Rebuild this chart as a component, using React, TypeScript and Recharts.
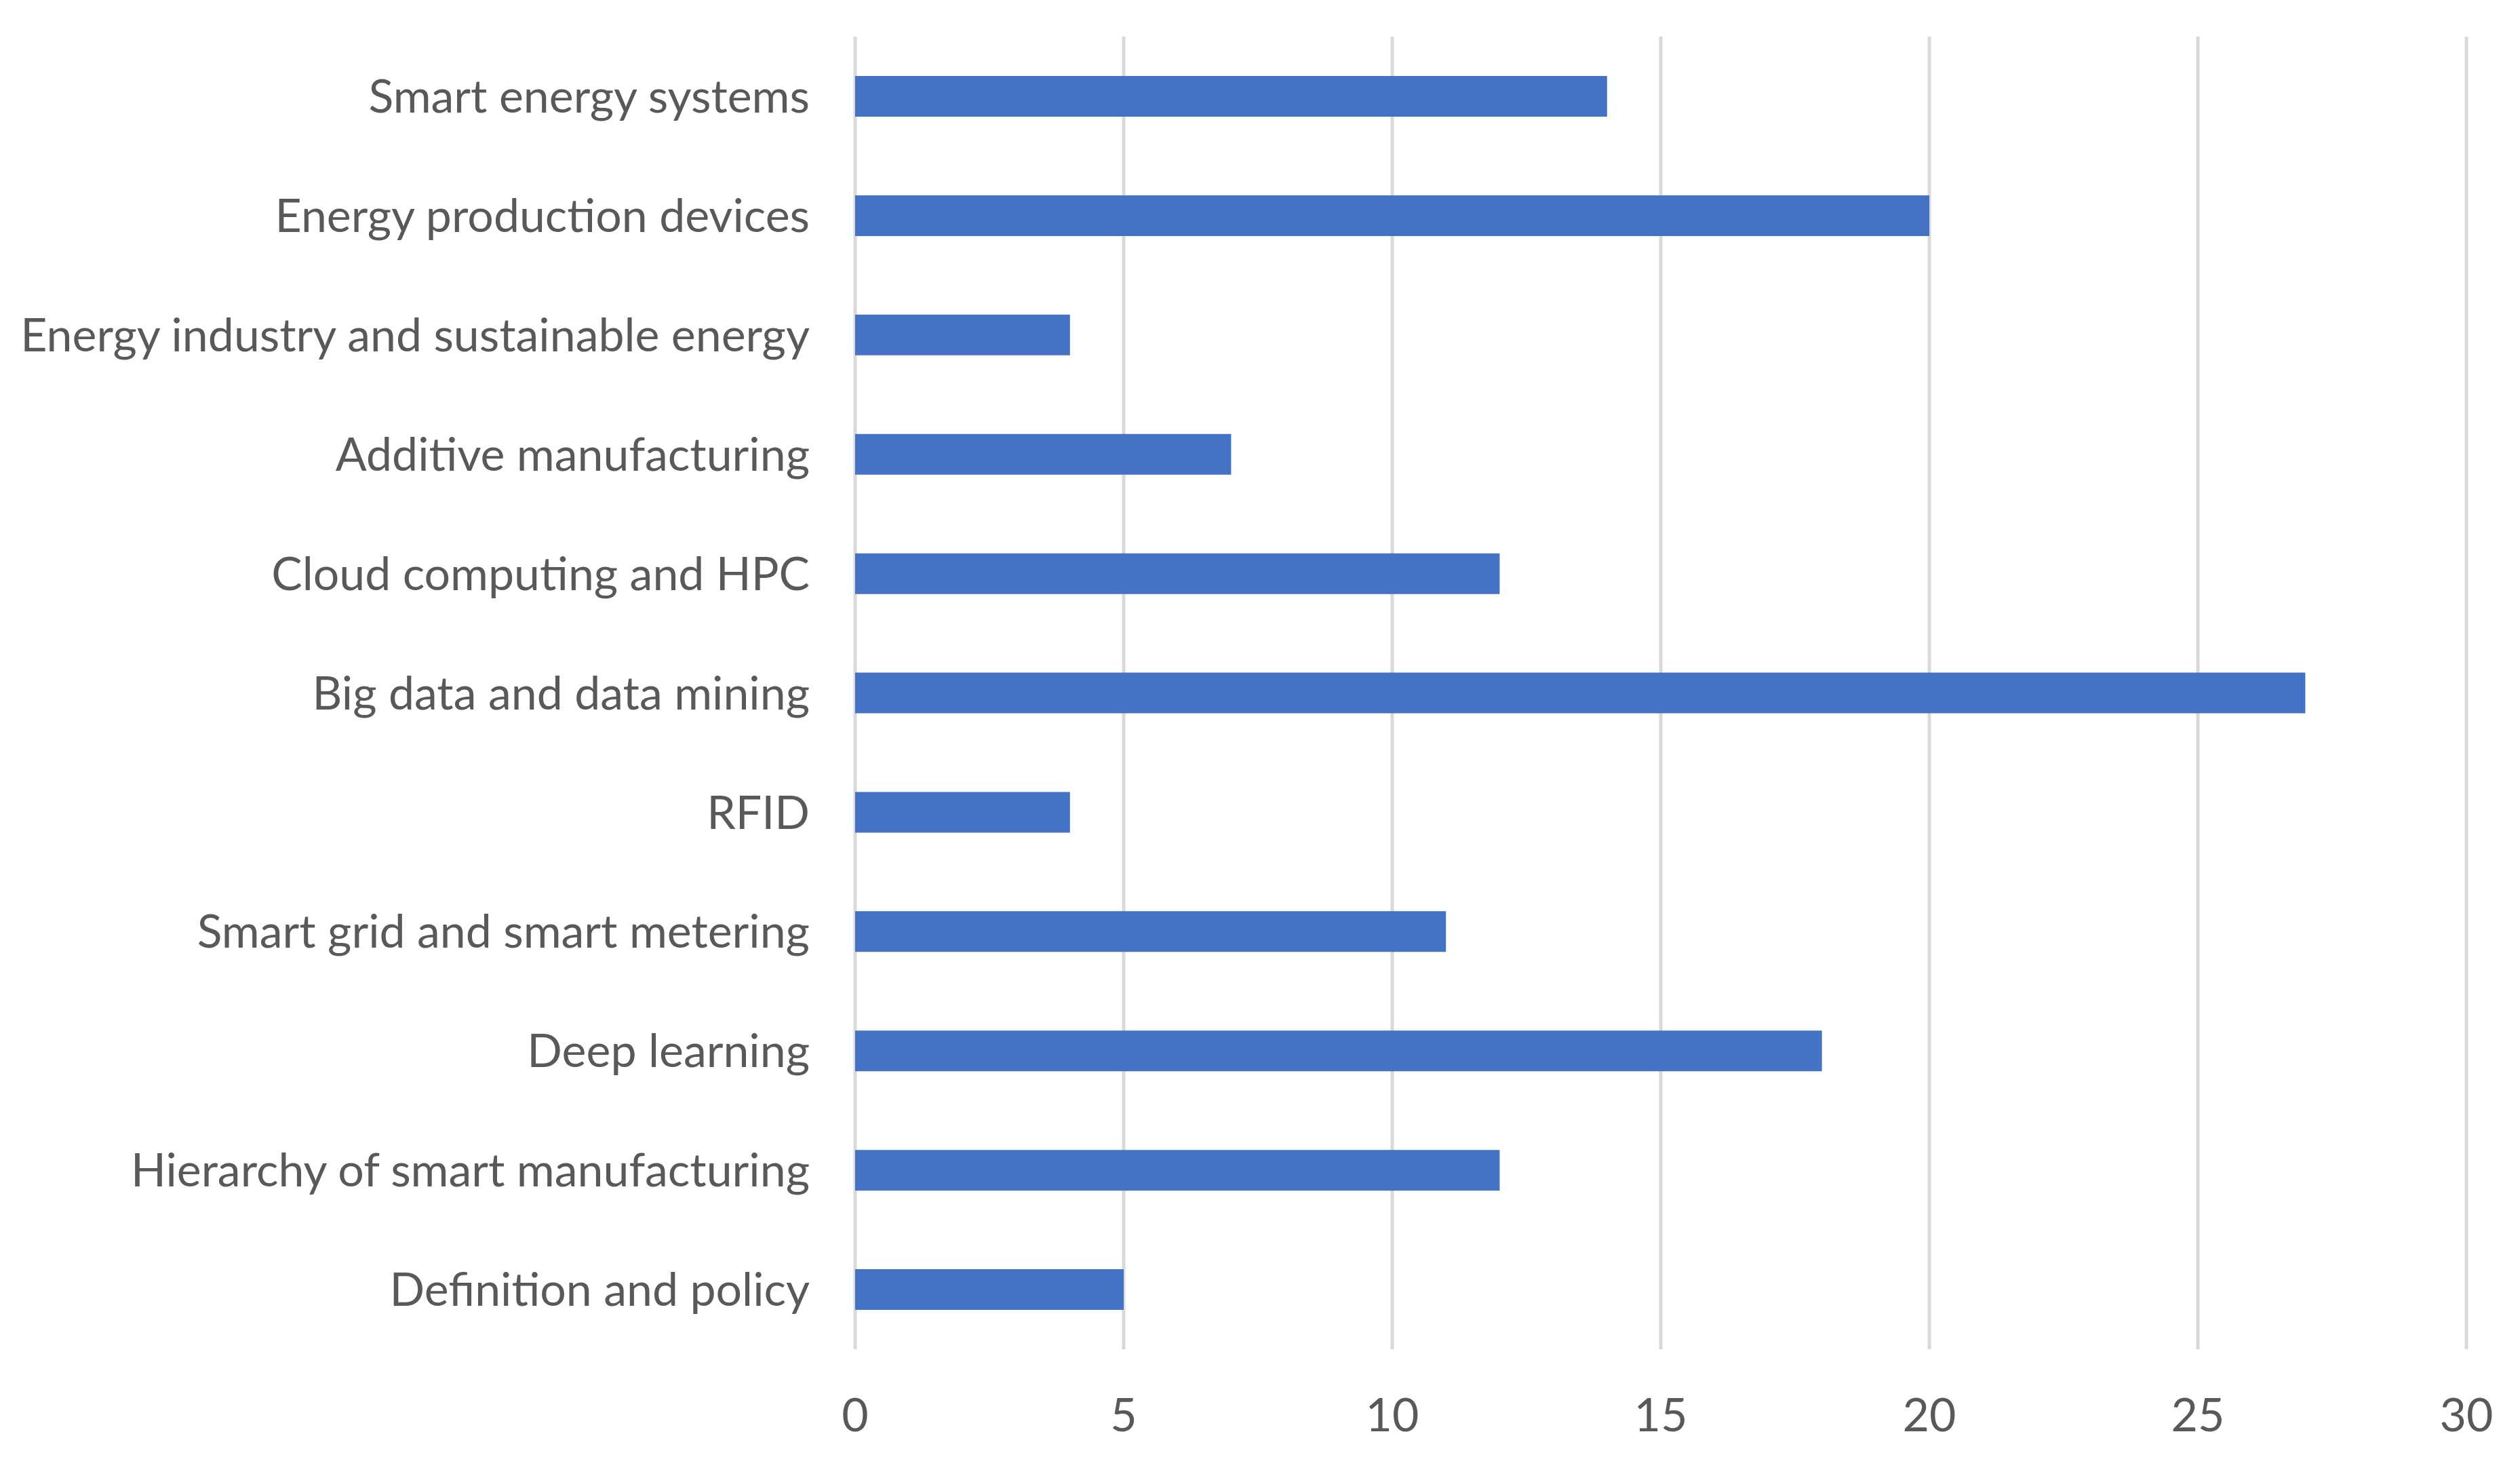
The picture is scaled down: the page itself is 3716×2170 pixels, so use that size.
import { BarChart, Bar, XAxis, YAxis, CartesianGrid } from 'recharts'

const topics = [
  'Smart energy systems',
  'Energy production devices',
  'Energy industry and sustainable energy',
  'Additive manufacturing',
  'Cloud computing and HPC',
  'Big data and data mining',
  'RFID',
  'Smart grid and smart metering',
  'Deep learning',
  'Hierarchy of smart manufacturing',
  'Definition and policy',
]

const counts = [14, 20, 4, 7, 12, 27, 4, 11, 18, 12, 5]

const xTicks = [0, 5, 10, 15, 20, 25, 30]

const FONT = 'Lato, "Open Sans", sans-serif'
const TEXT = '#595959'

export default function App() {
  const data = topics.map((topic, i) => ({ topic, count: counts[i] }))

  return (
    <div style={{ position: 'absolute', left: 0, top: 0, width: 3716, height: 2170, background: '#fff' }}>
      <BarChart
        width={3716}
        height={2170}
        data={data}
        layout="vertical"
        margin={{ top: 54, right: 79, bottom: 151, left: 0 }}
      >
        <CartesianGrid horizontal={false} stroke="#D9D9D9" strokeWidth={5} />
        <XAxis
          type="number"
          domain={[0, 30]}
          ticks={xTicks}
          axisLine={false}
          tickLine={false}
          tickSize={0}
          tickMargin={73}
          interval={0}
          tick={{ fontSize: 68, fontFamily: FONT, fill: TEXT }}
        />
        <YAxis
          type="category"
          dataKey="topic"
          width={1261}
          axisLine={false}
          tickLine={false}
          tickSize={0}
          tickMargin={67}
          interval={0}
          tick={{ fontSize: 68, fontFamily: FONT, fill: TEXT }}
        />
        <Bar dataKey="count" fill="#4472C4" barSize={60} isAnimationActive={false} />
      </BarChart>
    </div>
  )
}
